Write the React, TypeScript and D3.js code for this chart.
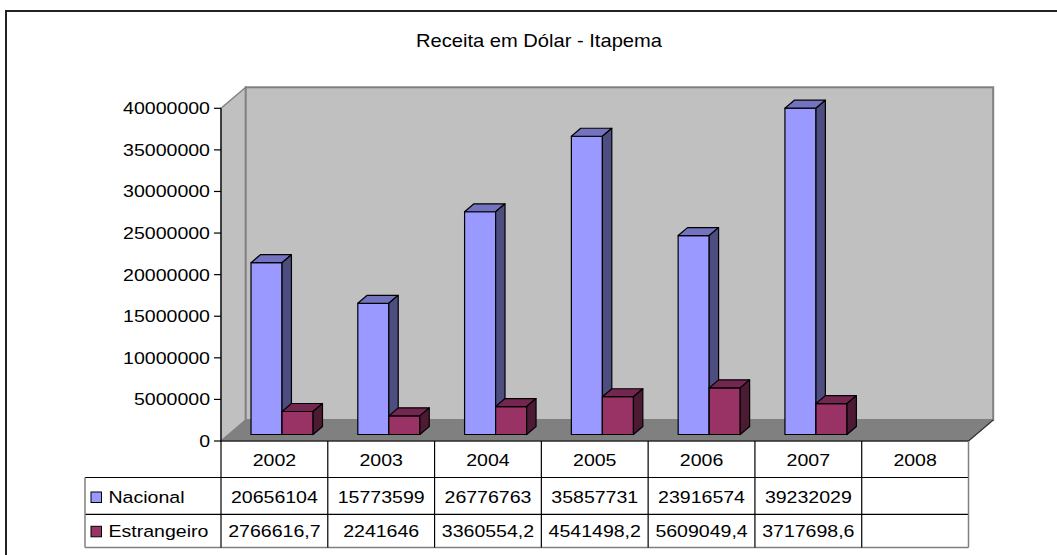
import React from 'react';
import * as d3 from 'd3';

const years = ['2002', '2003', '2004', '2005', '2006', '2007', '2008'];
const seriesNames = ['Nacional', 'Estrangeiro'];
const nacional: (number | null)[] = [20656104, 15773599, 26776763, 35857731, 23916574, 39232029, null];
const estrangeiro: (number | null)[] = [2766616.7, 2241646, 3360554.2, 4541498.2, 5609049.4, 3717698.6, null];
const title = 'Receita em Dólar - Itapema';

const colors = {
  Nacional: { front: '#9999FF', top: '#7373BF', side: '#4D4D80' },
  Estrangeiro: { front: '#993366', top: '#732650', side: '#4D1A33' },
} as Record<string, { front: string; top: string; side: string }>;

const FONT = '"Liberation Sans", Arial, sans-serif';
const SX = 1.15;

function T(props: { x: number; y: number; anchor?: string; size?: number; children: React.ReactNode }) {
  const { x, y, anchor = 'start', size = 17, children } = props;
  return (
    <text
      transform={`translate(${x},${y}) scale(${SX},1)`}
      textAnchor={anchor}
      fontFamily={FONT}
      fontSize={size}
      fill="#000"
    >
      {children}
    </text>
  );
}

const fmt = (v: number | null) => (v == null ? '' : String(v).replace('.', ','));

export default function App() {
  const W = 1057, H = 555;
  const plotLeft = 221, plotRight = 968.5;
  const y0 = 441, yTop = 108.3;
  const DX = 24.7, DY = -21; // full depth offset
  const fFront = 0.31, fBack = 0.69;

  const x = d3.scaleBand<string>().domain(years).range([plotLeft, plotRight]).padding(0);
  const xs = d3.scaleBand<string>().domain(seriesNames).range([0, x.bandwidth()]).paddingInner(0).paddingOuter(0.72);
  const y = d3.scaleLinear().domain([0, 40000000]).range([y0, yTop]);
  const ticks = y.ticks(8);

  const values: Record<string, (number | null)[]> = { Nacional: nacional, Estrangeiro: estrangeiro };

  const ox = fFront * DX, oy = fFront * DY;
  const dx = (fBack - fFront) * DX, dy = (fBack - fFront) * DY;

  const bars: React.ReactNode[] = [];
  years.forEach((yr, i) => {
    seriesNames.forEach((s) => {
      const v = values[s][i];
      if (v == null) return;
      const c = colors[s];
      const x1 = (x(yr) as number) + (xs(s) as number) + ox;
      const x2 = x1 + xs.bandwidth();
      const yb = y(0) + oy;
      const yt = y(v) + oy;
      const pts = (arr: number[][]) => arr.map((p) => p.join(',')).join(' ');
      bars.push(
        <g key={yr + s} stroke="#000" strokeWidth={1.2} strokeLinejoin="round">
          <rect x={x1} y={yt} width={x2 - x1} height={yb - yt} fill={c.front} />
          <polygon points={pts([[x1, yt], [x1 + dx, yt + dy], [x2 + dx, yt + dy], [x2, yt]])} fill={c.top} />
          <polygon points={pts([[x2, yt], [x2 + dx, yt + dy], [x2 + dx, yb + dy], [x2, yb]])} fill={c.side} />
        </g>
      );
    });
  });

  const rowTop = [441, 477.5, 514.3];
  const rowBottom = 547.5;
  const legendLeft = 85;

  return (
    <svg width={W} height={H} style={{ position: 'absolute', left: 0, top: 0, background: '#fff' }}>
      <rect x={0} y={0} width={W} height={H} fill="#fff" />
      {/* outer chart border */}
      <rect x={6} y={11} width={W + 10} height={H + 10} fill="none" stroke="#222" strokeWidth={2} />
      <T x={539} y={47} anchor="middle" size={17.5}>{title}</T>

      {/* walls */}
      <polygon
        points={`${plotLeft},${y0} ${plotLeft},${yTop} ${plotLeft + DX},${yTop + DY} ${plotLeft + DX},${y0 + DY}`}
        fill="#c0c0c0" stroke="#808080" strokeWidth={1.5}
      />
      <rect x={plotLeft + DX} y={yTop + DY} width={plotRight - plotLeft} height={y0 - yTop}
        fill="#c0c0c0" stroke="#808080" strokeWidth={2} />
      <polygon
        points={`${plotLeft},${y0} ${plotLeft + DX},${y0 + DY} ${plotRight + DX},${y0 + DY} ${plotRight},${y0}`}
        fill="#808080" stroke="#808080" strokeWidth={1}
      />
      <line x1={plotRight} y1={y0} x2={plotRight + DX} y2={y0 + DY} stroke="#333" strokeWidth={1.2} />

      {bars}

      {/* y axis */}
      <line x1={plotLeft} y1={yTop} x2={plotLeft} y2={y0} stroke="#000" strokeWidth={1.2} />
      {ticks.map((t) => (
        <g key={t}>
          <line x1={plotLeft - 7} x2={plotLeft} y1={y(t)} y2={y(t)} stroke="#000" strokeWidth={1.2} />
          <T x={210} y={y(t) + 6} anchor="end">{String(t)}</T>
        </g>
      ))}

      {/* data table */}
      <g>
        <line x1={plotLeft} y1={y0} x2={plotRight} y2={y0} stroke="#000" strokeWidth={1.2} />
        <line x1={legendLeft} y1={rowTop[1]} x2={plotRight} y2={rowTop[1]} stroke="#000" strokeWidth={1.2} />
        <line x1={legendLeft} y1={rowTop[2]} x2={plotRight} y2={rowTop[2]} stroke="#000" strokeWidth={1.2} />
        <line x1={legendLeft} y1={rowBottom} x2={plotRight} y2={rowBottom} stroke="#808080" strokeWidth={1.5} />
        <line x1={legendLeft} y1={rowTop[1]} x2={legendLeft} y2={rowBottom} stroke="#808080" strokeWidth={1.5} />
        <line x1={plotLeft} y1={y0} x2={plotLeft} y2={rowBottom} stroke="#000" strokeWidth={1.2} />
        {years.slice(1).map((yr) => (
          <line key={yr} x1={x(yr) as number} x2={x(yr) as number} y1={y0} y2={rowBottom} stroke="#000" strokeWidth={1.2} />
        ))}
        <line x1={plotRight} y1={y0} x2={plotRight} y2={rowBottom} stroke="#808080" strokeWidth={1.5} />
        {years.map((yr, i) => {
          const cx = (x(yr) as number) + x.bandwidth() / 2;
          return (
            <g key={yr}>
              <T x={cx} y={465.5} anchor="middle">{yr}</T>
              <T x={cx} y={502.5} anchor="middle">{fmt(nacional[i])}</T>
              <T x={cx} y={536.8} anchor="middle">{fmt(estrangeiro[i])}</T>
            </g>
          );
        })}
        {seriesNames.map((s, k) => {
          const ty = k === 0 ? 502.5 : 536.8;
          return (
            <g key={s}>
              <rect x={91} y={ty - 10.5} width={10.5} height={10.5} fill={colors[s].front} stroke="#000" strokeWidth={1} />
              <T x={108.5} y={ty}>{s}</T>
            </g>
          );
        })}
      </g>
    </svg>
  );
}
